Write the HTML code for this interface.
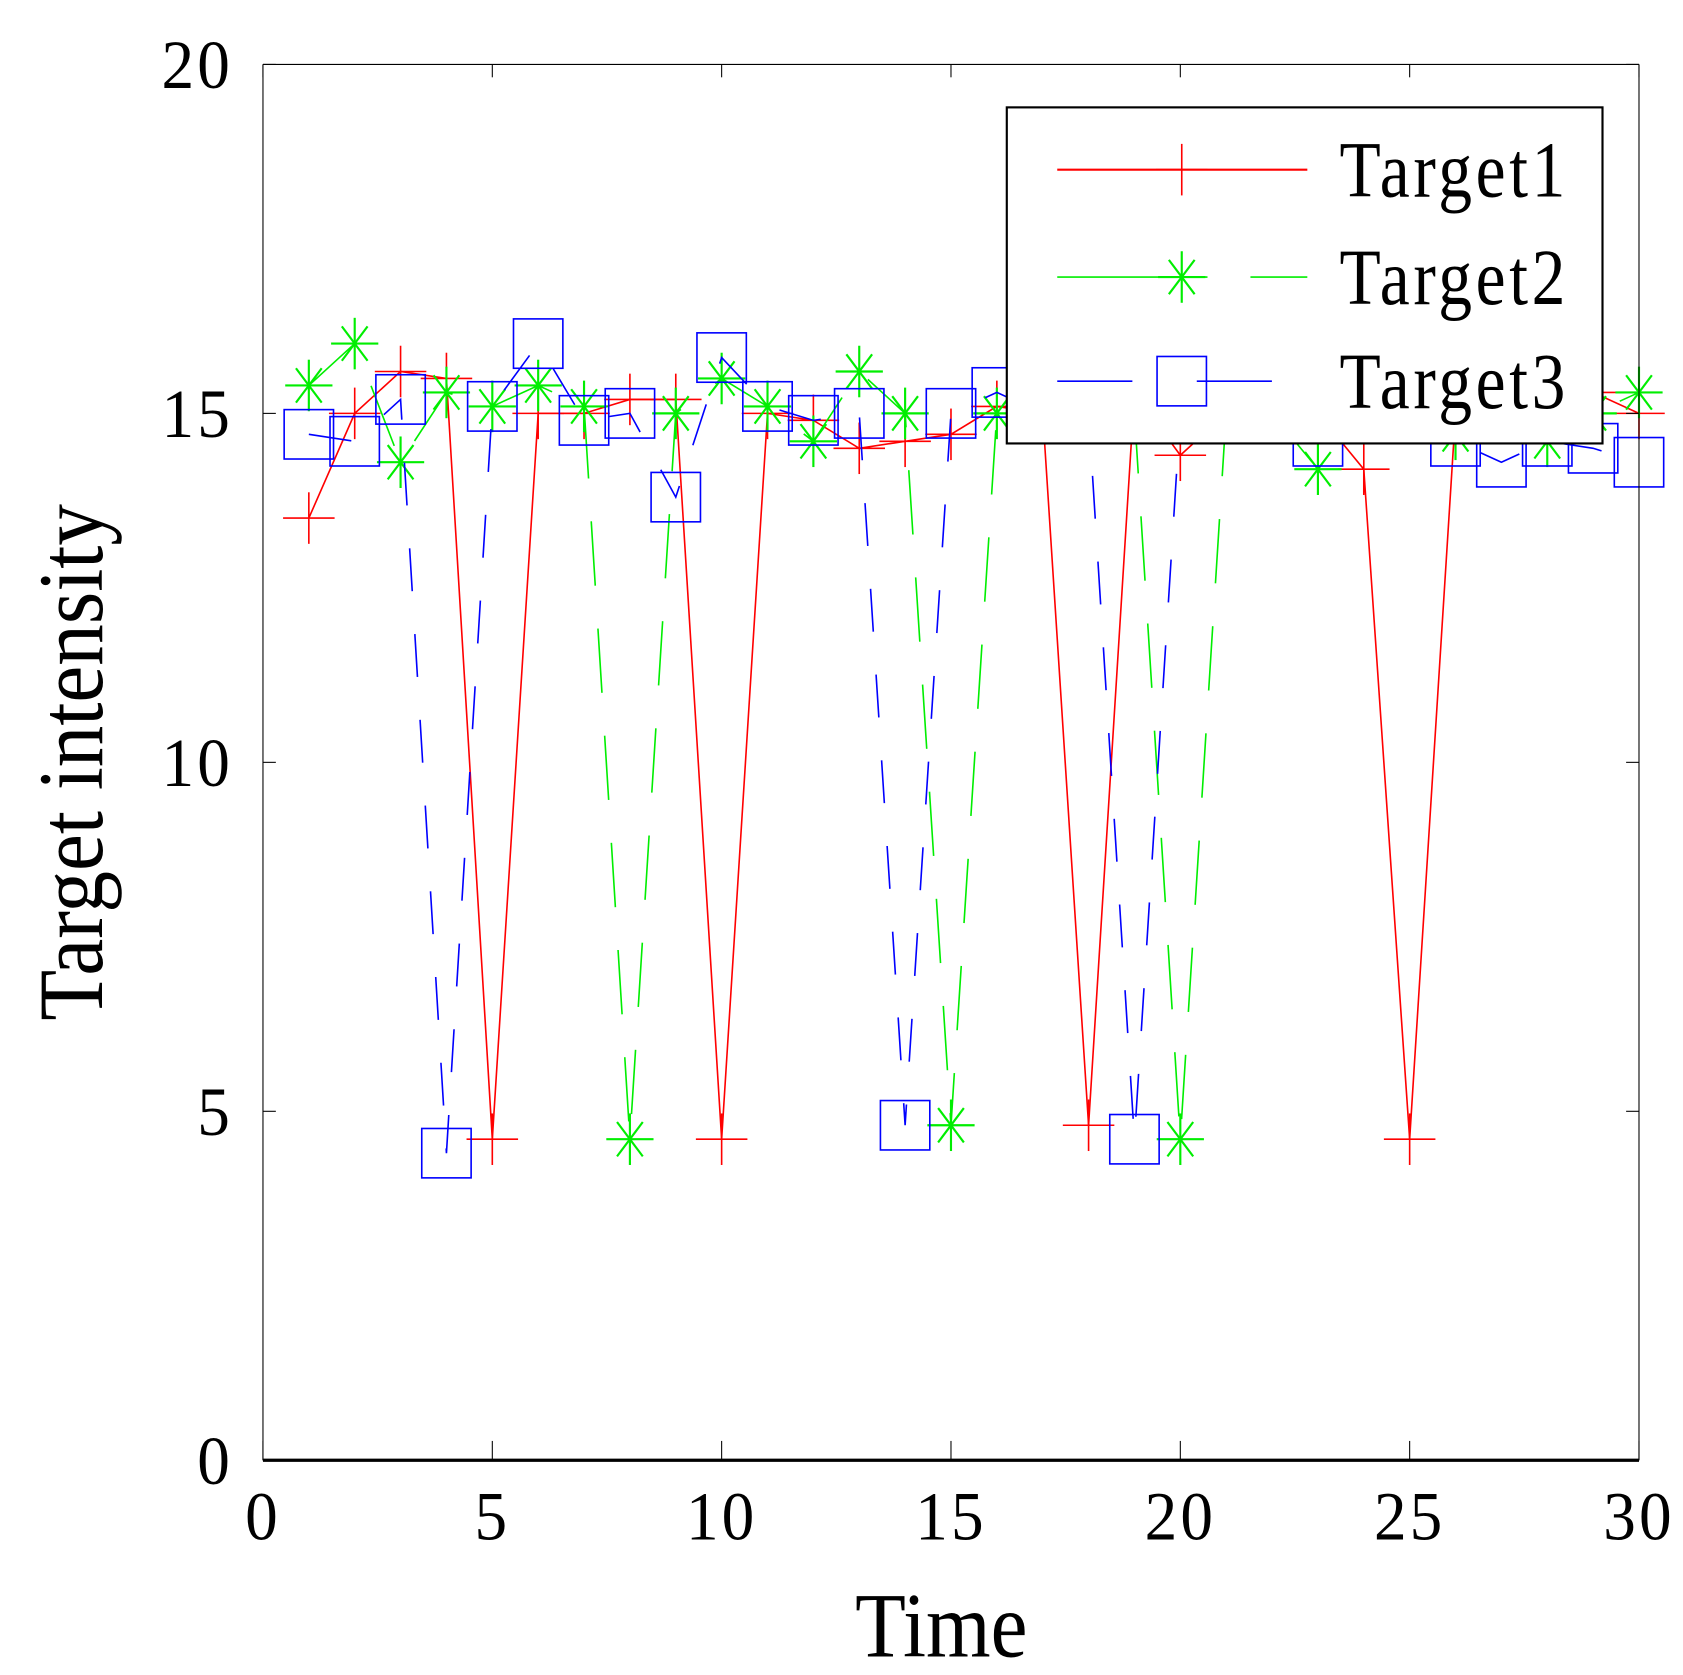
<!DOCTYPE html>
<html><head><meta charset="utf-8"><style>
html,body{margin:0;padding:0;background:#fff;}
svg{display:block;}
text{font-family:"Liberation Serif",serif;fill:#000;}
</style></head><body>
<svg id="chart" width="1683" height="1675" viewBox="0 0 1568 1560" preserveAspectRatio="none" xmlns="http://www.w3.org/2000/svg">
<g id="plot"></g>
<g id="axes"></g>
<g id="legend"></g>
</svg>
<script>
const times = [1,2,3,4,5,6,7,8,9,10,11,12,13,14,15,16,17,18,19,20,21,22,23,24,25,26,27,28,29,30];
const target1 = [13.5,15.0,15.6,15.5,4.6,15.0,15.0,15.2,15.2,4.6,15.0,14.9,14.5,14.6,14.7,15.1,15.0,4.8,15.3,14.4,15.0,15.0,15.0,14.2,4.6,15.0,15.3,15.3,15.3,15.0];
const target2 = [15.4,16.0,14.3,15.3,15.1,15.4,15.1,4.6,15.0,15.5,15.1,14.6,15.6,15.0,4.8,15.0,15.0,15.0,15.0,4.6,15.0,15.0,14.2,15.0,15.0,14.7,15.0,14.6,15.0,15.3];
const target3 = [14.7,14.6,15.2,4.4,15.1,16.0,14.9,15.0,13.8,15.8,15.1,14.9,15.0,4.8,15.0,15.3,15.0,15.0,4.6,15.0,15.0,15.0,14.6,15.0,15.0,14.6,14.3,14.6,14.5,14.3];
const xTicks = [0,5,10,15,20,25,30];
const yTicks = [0,5,10,15,20];
const seriesNames = ["Target1","Target2","Target3"];

const NS="http://www.w3.org/2000/svg";
const X0=245,X1=1527,Y0=1360,Y1=60;
const xs=t=>X0+(t-0)/(30-0)*(X1-X0);
const ys=v=>Y0-(v-0)/(20-0)*(Y0-Y1);
function mk(tag,attrs,parent){const e=document.createElementNS(NS,tag);for(const k in attrs)e.setAttribute(k,attrs[k]);parent.appendChild(e);return e;}
const plot=document.getElementById('plot'),axes=document.getElementById('axes'),leg=document.getElementById('legend');

const styles=[
 {color:'#ff0000',dash:'none',marker:'plus',data:target1},
 {color:'#00ee00',dash:'60 40',marker:'star',data:target2},
 {color:'#0000ff',dash:'40 40',marker:'square',data:target3}
];
function marker(type,x,y,color,g){
  if(type==='plus'){
    mk('line',{x1:x-24,y1:y,x2:x+24,y2:y,stroke:color,'stroke-width':1.5},g);
    mk('line',{x1:x,y1:y-24,x2:x,y2:y+24,stroke:color,'stroke-width':1.5},g);
  }else if(type==='star'){
    mk('line',{x1:x-22,y1:y,x2:x+22,y2:y,stroke:color,'stroke-width':2},g);
    mk('line',{x1:x,y1:y-24,x2:x,y2:y+24,stroke:color,'stroke-width':2},g);
    mk('line',{x1:x-12,y1:y-16,x2:x+12,y2:y+16,stroke:color,'stroke-width':2},g);
    mk('line',{x1:x+12,y1:y-16,x2:x-12,y2:y+16,stroke:color,'stroke-width':2},g);
  }else{
    mk('rect',{x:x-23,y:y-23,width:46,height:46,fill:'none',stroke:color,'stroke-width':1.5},g);
  }
}
styles.forEach((s,i)=>{
  const g=mk('g',{},plot);
  
  
  const pts=times.map((t,j)=>xs(t)+','+ys(s.data[j])).join(' ');
  const pl=mk('polyline',{points:pts,fill:'none',stroke:s.color,'stroke-width':1.5,'stroke-dasharray':s.dash},g);
  
  
  times.forEach((t,j)=>{
    const mg=mk('g',{},g);
    
    
    marker(s.marker,xs(t),ys(s.data[j]),s.color,mg);
  });
});

mk('line',{x1:X0,y1:Y1,x2:X1,y2:Y1,stroke:'#000','stroke-width':1},axes);
mk('line',{x1:X0,y1:Y1,x2:X0,y2:Y0,stroke:'#000','stroke-width':1},axes);
mk('line',{x1:X1,y1:Y1,x2:X1,y2:Y0,stroke:'#000','stroke-width':1},axes);
mk('line',{x1:X0,y1:Y0,x2:X1,y2:Y0,stroke:'#000','stroke-width':3},axes);
xTicks.forEach(t=>{
  const x=xs(t);
  mk('line',{x1:x,y1:Y0,x2:x,y2:Y0-18,stroke:'#000','stroke-width':1},axes);
  mk('line',{x1:x,y1:Y1,x2:x,y2:Y1+12,stroke:'#000','stroke-width':1},axes);
  const tx=mk('text',{x:0,y:0,'font-size':64,'text-anchor':'middle','letter-spacing':3,transform:`translate(${x},${Y0+74}) scale(0.95,1)`},axes);
  tx.textContent=t;
  
  
});
yTicks.forEach(v=>{
  const y=ys(v);
  mk('line',{x1:X0,y1:y,x2:X0+12,y2:y,stroke:'#000','stroke-width':1},axes);
  mk('line',{x1:X1,y1:y,x2:X1-12,y2:y,stroke:'#000','stroke-width':1},axes);
  const tx=mk('text',{x:0,y:0,'font-size':64,'text-anchor':'end','letter-spacing':3,transform:`translate(${X0-28},${y+22}) scale(0.95,1)`},axes);
  tx.textContent=v;
  
  
});
const xt=mk('text',{x:0,y:0,'font-size':86,'text-anchor':'middle',transform:`translate(877,1543) scale(0.9,1)`},axes);
xt.textContent='Time';


const yt=mk('text',{x:0,y:0,'font-size':86,'text-anchor':'middle',transform:`translate(95,710) rotate(-90) scale(0.9,1)`},axes);
yt.textContent='Target intensity';



const lb=mk('rect',{x:938,y:100,width:555,height:313,fill:'#fff',stroke:'#000','stroke-width':2},leg);


const rows=[158,258,355];
styles.forEach((s,i)=>{
  const g=mk('g',{},leg);
  
  
  const y=rows[i];
  mk('line',{x1:985,y1:y,x2:1218,y2:y,stroke:s.color,'stroke-width':s.dash==='none'?2:1.5,'stroke-dasharray':i===1?'140 40':(i===2?'70 60':'none')},g);
  marker(s.marker,1101,y,s.color,g);
  const tx=mk('text',{x:0,y:0,'font-size':74,'letter-spacing':4,transform:`translate(1248,${y+25}) scale(0.85,1)`},g);
  tx.textContent=seriesNames[i];
});
</script>
</body></html>
